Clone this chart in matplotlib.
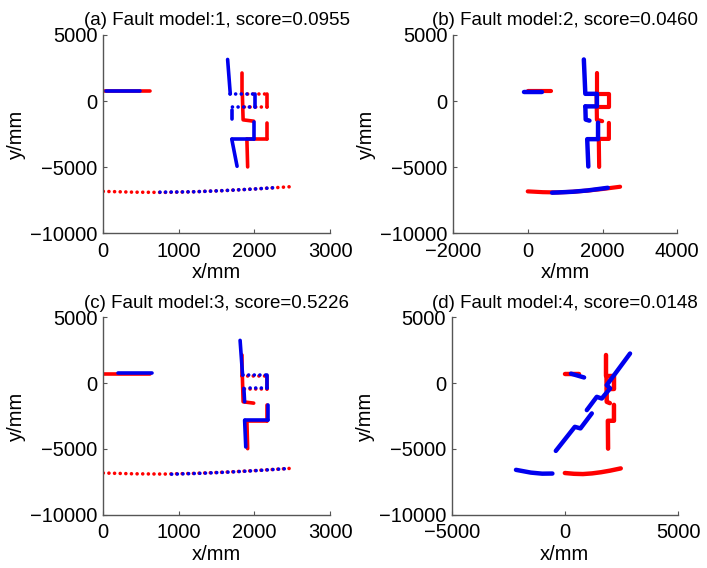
import matplotlib
matplotlib.use('Agg')
import matplotlib.pyplot as plt

plt.rcParams['font.family'] = ['Liberation Sans', 'DejaVu Sans']

# red reference map (same in every panel)
red_top_x = [0, 620]
red_top_y = [730, 730]
red_curve_x = [0, 400, 800, 1200, 1600, 2000, 2470]
red_curve_y = [-6830, -6890, -6910, -6860, -6770, -6650, -6480]
red_upper_x = [1840, 1840, 2170, 2170, 1850]
red_upper_y = [2150, 550, 550, -420, -420]
red_mid_x = [1840, 1850, 1990]
red_mid_y = [550, -1420, -1520]
red_lower_x = [2170, 2170, 1900, 1910]
red_lower_y = [-1650, -2860, -2860, -4980]

# blue, model 1
a_top_x, a_top_y = [40, 490], [730, 730]
a_curve_x = [750, 1200, 1600, 2000, 2270]
a_curve_y = [-6890, -6860, -6770, -6650, -6550]
a_upper_x, a_upper_y = [1645, 1680, 2010, 2010, 1700], [3150, 550, 550, -420, -420]
a_mid_x, a_mid_y = [1700, 1700], [-650, -1350]
a_lower_x, a_lower_y = [2000, 2000, 1700, 1770], [-1600, -2880, -2880, -4930]

# blue, model 2
b_top_x, b_top_y = [-110, 380], [690, 690]
b_curve_x = [650, 1200, 1600, 2140]
b_curve_y = [-6930, -6860, -6760, -6560]
b_upper_x, b_upper_y = [1500, 1540, 1850, 1850, 1540], [3150, 550, 550, -400, -400]
b_mid_x, b_mid_y = [1540, 1550, 1650], [-400, -1400, -1480]
b_lower_x, b_lower_y = [1880, 1880, 1590, 1620], [-1630, -2880, -2880, -4950]

# blue, model 3
c_top_x, c_top_y = [200, 640], [740, 740]
c_curve_x = [905, 1300, 1700, 2100, 2447]
c_curve_y = [-6920, -6850, -6750, -6620, -6490]
c_upper_x, c_upper_y = [1810, 1843, 2160, 2160, 1870], [3250, 620, 620, -400, -400]
c_mid_x, c_mid_y = [1860, 1870], [-400, -1420]
c_lower_x, c_lower_y = [2180, 2180, 1870, 1885], [-1670, -2820, -2820, -4850]

# blue, model 4
d_top_x, d_top_y = [270, 850], [720, 430]
d_curve_x = [-2160, -1500, -1000, -550]
d_curve_y = [-6590, -6800, -6880, -6870]
d_diag1_x, d_diag1_y = [-400, 440, 690, 1190], [-5150, -3320, -3440, -2300]
d_diag2_x, d_diag2_y = [970, 1410, 1630, 2000, 1850, 2880], [-2050, -1040, -1170, -400, -150, 2250]

titles = ['(a) Fault model:1, score=0.0955', '(b) Fault model:2, score=0.0460',
          '(c) Fault model:3, score=0.5226', '(d) Fault model:4, score=0.0148']
xlims = [(0, 3000), (-2000, 4000), (0, 3000), (-5000, 5000)]
xticks = [[0, 1000, 2000, 3000], [-2000, 0, 2000, 4000], [0, 1000, 2000, 3000], [-5000, 0, 5000]]
yticks = [-10000, -5000, 0, 5000]

RED = '#ff0000'
BLUE = '#0000ee'


def line(ax, x, y, c, dotted=False, lw=2.6):
    if dotted:
        ax.plot(x, y, color=c, lw=lw, linestyle=(0, (0.01, 1.55)),
                dash_capstyle='round', solid_capstyle='round')
    else:
        ax.plot(x, y, color=c, lw=lw, solid_capstyle='round')


def stepped(ax, x, y, c, dotted_idx):
    # draw a polyline one segment at a time, some segments dotted
    for k in range(len(x) - 1):
        line(ax, x[k:k + 2], y[k:k + 2], c, k in dotted_idx)


fig = plt.figure(figsize=(7.07, 5.68), dpi=100)
boxes = [(0.1461, 0.5893, 0.3207, 0.3491), (0.6407, 0.5893, 0.3173, 0.3491),
         (0.1461, 0.0938, 0.3207, 0.3475), (0.6389, 0.0938, 0.3201, 0.3475)]
axes = [fig.add_axes(b) for b in boxes]

# panels a and c: dotted point clouds on the horizontal parts
for ax, bl in [(axes[0], (a_top_x, a_top_y, a_curve_x, a_curve_y, a_upper_x, a_upper_y,
                          a_mid_x, a_mid_y, a_lower_x, a_lower_y)),
               (axes[2], (c_top_x, c_top_y, c_curve_x, c_curve_y, c_upper_x, c_upper_y,
                          c_mid_x, c_mid_y, c_lower_x, c_lower_y))]:
    line(ax, red_top_x, red_top_y, RED)
    line(ax, red_curve_x, red_curve_y, RED, True)
    stepped(ax, red_upper_x, red_upper_y, RED, (1, 3))
    line(ax, red_mid_x, red_mid_y, RED)
    stepped(ax, red_lower_x, red_lower_y, RED, ())
    tx, ty, cx, cy, ux, uy, mx, my, lx, ly = bl
    line(ax, tx, ty, BLUE)
    line(ax, cx, cy, BLUE, True)
    stepped(ax, ux, uy, BLUE, (1, 3))
    line(ax, mx, my, BLUE)
    stepped(ax, lx, ly, BLUE, ())

# panel b
ax = axes[1]
for x, y in [(red_top_x, red_top_y), (red_curve_x, red_curve_y), (red_upper_x, red_upper_y),
             (red_mid_x, red_mid_y), (red_lower_x, red_lower_y)]:
    line(ax, x, y, RED, lw=3.0)
for x, y in [(b_top_x, b_top_y), (b_curve_x, b_curve_y), (b_upper_x, b_upper_y),
             (b_mid_x, b_mid_y), (b_lower_x, b_lower_y)]:
    line(ax, x, y, BLUE, lw=3.2)

# panel d
ax = axes[3]
for x, y in [(red_top_x, red_top_y), (red_curve_x, red_curve_y), (red_upper_x, red_upper_y),
             (red_mid_x, red_mid_y), (red_lower_x, red_lower_y)]:
    line(ax, x, y, RED, lw=3.2)
for x, y in [(d_top_x, d_top_y), (d_curve_x, d_curve_y), (d_diag1_x, d_diag1_y),
             (d_diag2_x, d_diag2_y)]:
    line(ax, x, y, BLUE, lw=3.2)

for i, ax in enumerate(axes):
    ax.set_xlim(*xlims[i])
    ax.set_ylim(-10000, 5000)
    ax.set_xticks(xticks[i])
    ax.set_yticks(yticks)
    ax.set_xticklabels([str(t).replace('-', '\u2212') for t in xticks[i]])
    ax.set_yticklabels([str(t).replace('-', '\u2212') for t in yticks])
    for s in ['top', 'right']:
        ax.spines[s].set_visible(False)
    for s in ['left', 'bottom']:
        ax.spines[s].set_color('#555555')
        ax.spines[s].set_linewidth(1.0)
    ax.tick_params(direction='in', length=3, color='#555555', labelsize=14.5)
    ax.tick_params(axis='x', pad=6)
    ax.tick_params(axis='y', pad=4)
    ax.set_title(titles[i], fontsize=13.5, pad=7)
    ax.set_xlabel('x/mm', fontsize=14.5, labelpad=2)
    ax.set_ylabel('y/mm', fontsize=14.5, labelpad=3)

fig.savefig('out.png', dpi=100)
